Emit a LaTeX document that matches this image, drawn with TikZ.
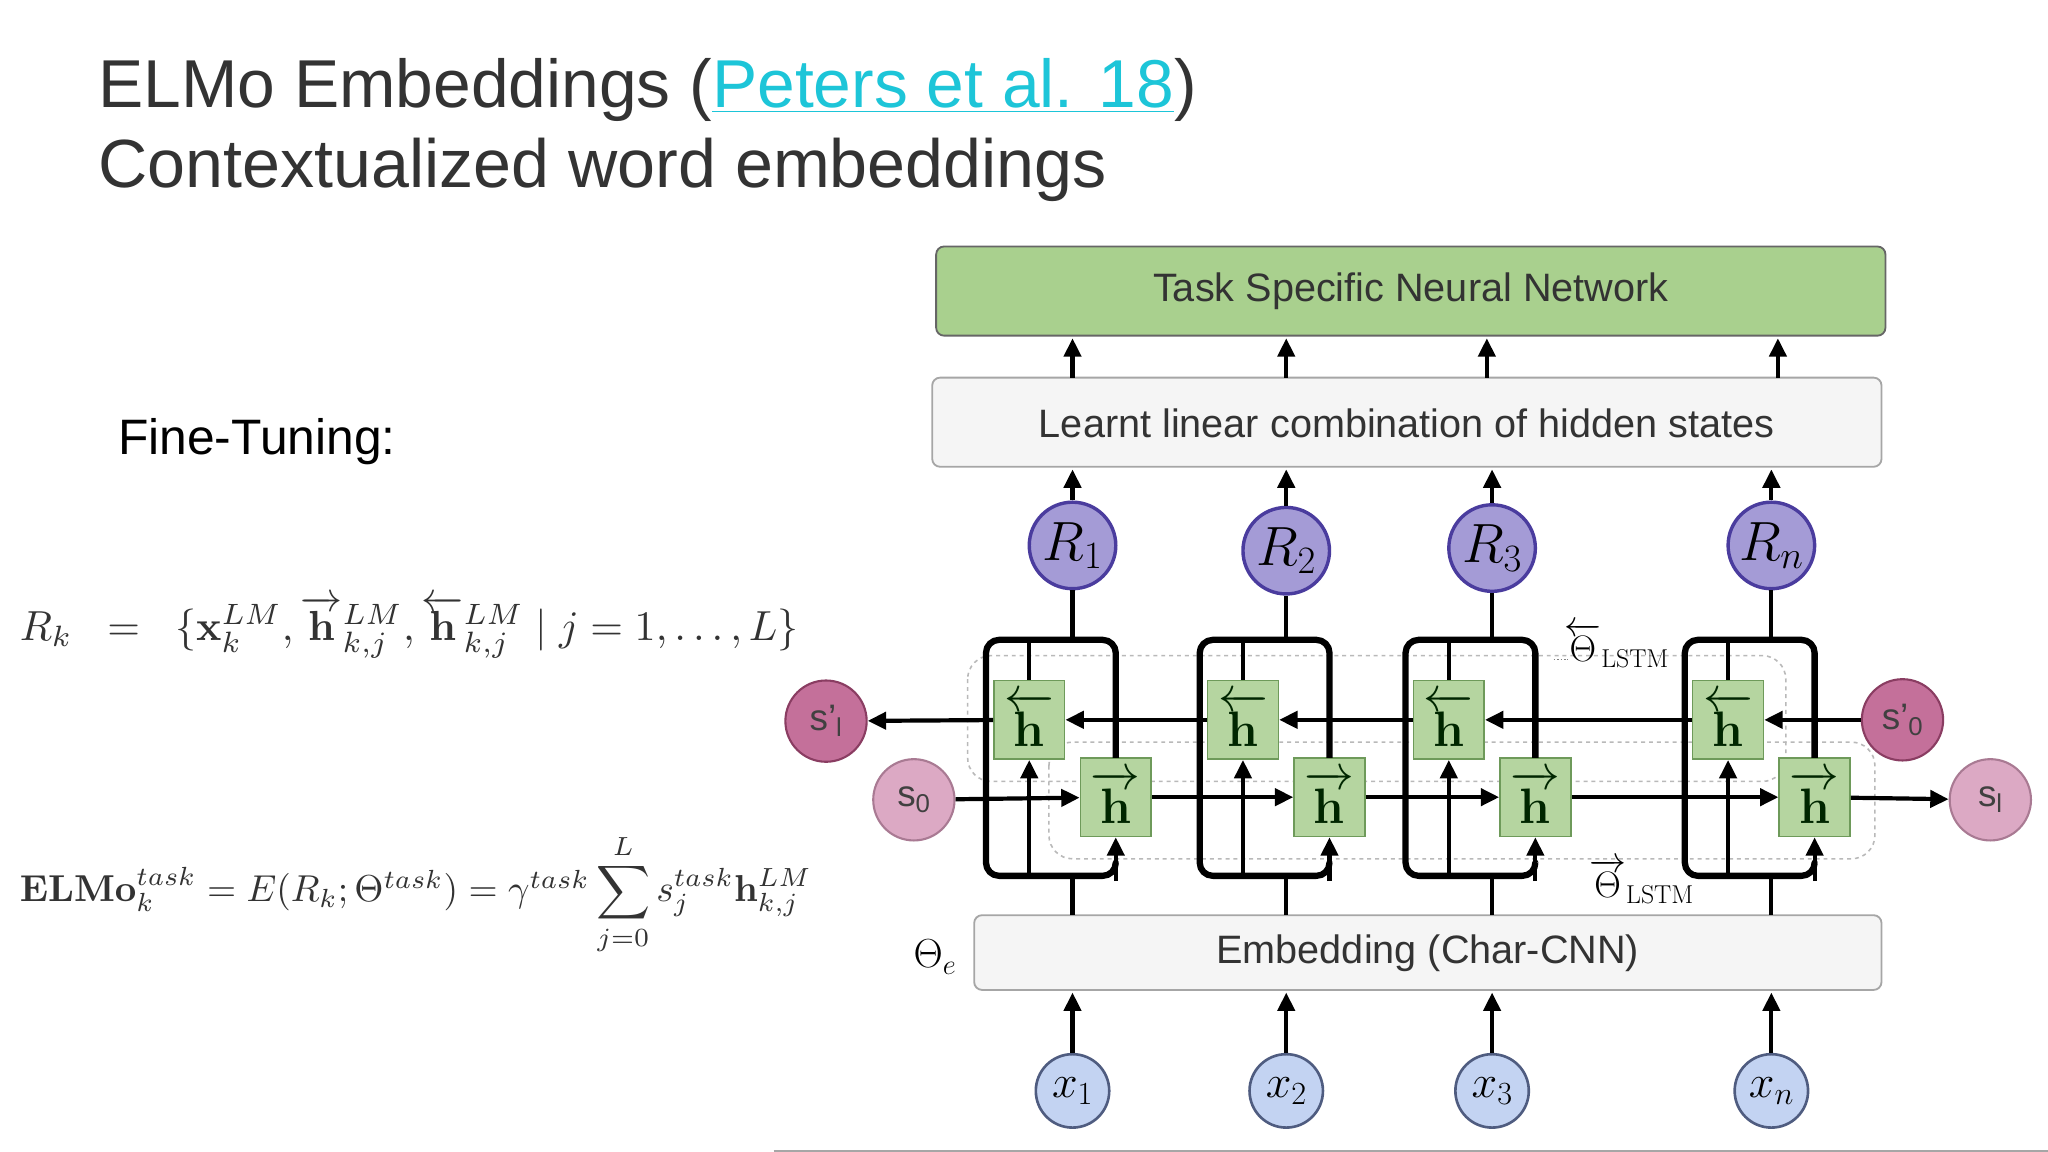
\documentclass[tikz,border=0pt]{standalone}
\usepackage{fix-cm}
\usepackage{amsmath}
\usepackage[no-math]{fontspec}
\setmainfont{Liberation Sans}
\setsansfont{Liberation Sans}
\usetikzlibrary{arrows.meta}
\definecolor{tgreen}{HTML}{A9D08E}
\definecolor{hgreen}{HTML}{B5D5A0}
\definecolor{hborder}{HTML}{6E9A5A}
\definecolor{rpurple}{HTML}{A49BD6}
\definecolor{rborder}{HTML}{4A3C9E}
\definecolor{xblue}{HTML}{C3D3F2}
\definecolor{xborder}{HTML}{4F5C80}
\definecolor{sdark}{HTML}{C4709A}
\definecolor{sdarkb}{HTML}{8A3D62}
\definecolor{slight}{HTML}{DCA9C4}
\definecolor{slightb}{HTML}{A97A93}
\definecolor{txt}{HTML}{333333}
\definecolor{linkc}{HTML}{1DC5D8}
\newcommand{\fs}[1]{\fontsize{#1}{#1}\selectfont}
\tikzset{
  box/.style={draw=gray!70, rounded corners=3mm, line width=0.7mm},
  hbox/.style={draw=hborder, fill=hgreen, minimum width=27mm, minimum height=30mm, inner sep=0, line width=0.6mm, text=green!15!black},
  rcirc/.style={circle, draw=rborder, fill=rpurple, minimum size=33mm, inner sep=0, line width=1.3mm},
  xcirc/.style={circle, draw=xborder, fill=xblue, minimum size=28mm, inner sep=0, line width=1mm},
  sd/.style={circle, draw=sdarkb, fill=sdark, minimum size=31mm, inner sep=0, line width=0.8mm, text=black!75},
  sl/.style={circle, draw=slightb, fill=slight, minimum size=31mm, inner sep=0, line width=0.8mm, text=black!75},
  thk/.style={line width=2.4mm, line join=round},
  arr/.style={line width=1.6mm, -{Triangle[length=7mm, width=6.5mm]}},
  dbox/.style={draw=gray!55, dash pattern=on 1.5mm off 1.5mm, line width=0.6mm, rounded corners=9mm},
}
\begin{document}
\begin{tikzpicture}[x=0.5mm, y=-0.5mm]
\useasboundingbox (0,0) rectangle (1562,878.6);
\fill[white] (0,0) rectangle (1562,878.6);
% title
\node[anchor=base west, inner sep=0, text=txt] (t1) at (75,82) {\fs{73.5}ELMo Embeddings (\textcolor{linkc}{\underline{Peters et al. 18}})};
\node[anchor=base west, inner sep=0, text=txt] (t2) at (75,143) {\fs{74}Contextualized word embeddings};
\node[anchor=base west, inner sep=0, text=black] (ft) at (90,347) {\fs{54}Fine-Tuning:};
% equations
\node[anchor=west, inner sep=0, text=black!80] (e1) at (15,478) {\resizebox{297mm}{!}{$R_k \;\;=\;\; \{\mathbf{x}^{LM}_k,\overrightarrow{\mathbf{h}}^{LM}_{k,j},\overleftarrow{\mathbf{h}}^{LM}_{k,j}\mid j=1,\ldots,L\}$}};
\node[anchor=west, inner sep=0, text=black!80] (e2) at (15,682) {\resizebox{302mm}{!}{$\mathbf{ELMo}^{task}_k=E(R_k;\Theta^{task})=\gamma^{task}\displaystyle\sum_{j=0}^{L}s^{task}_j\mathbf{h}^{LM}_{k,j}$}};
% top boxes
\draw[box, draw=gray!80!black, fill=tgreen] (714,188) rectangle (1438,256);
\node[text=txt] (tsn) at (1076,222) {\fs{43}Task Specific Neural Network};
\draw[box, fill=gray!8] (711,288) rectangle (1435,356);
\node[text=txt] (llc) at (1073,323) {\fs{43}Learnt linear combination of hidden states};
\draw[box, fill=gray!8] (743,698) rectangle (1435,755);
\node[text=txt] (emb) at (1089,727) {\fs{43}Embedding (Char-CNN)};
\node (the) at (713,730) {\fs{44}$\Theta_e$};
% dashed groups
\draw[dbox] (738,500) rectangle (1362,596);
\draw[dbox] (800,566) rectangle (1430,655);
\node[anchor=west, inner sep=0] (tl) at (1193,492) {\fs{40}$\overleftarrow{\Theta}_{\mathrm{LSTM}}$};
\draw[gray, dotted, line width=0.6mm] (1185,503) -- (1196,503);
\node[anchor=west, inner sep=0] (tr) at (1212,672) {\fs{40}$\overrightarrow{\Theta}_{\mathrm{LSTM}}$};
% s circles
\node[sd] (spl) at (630,550) {\fs{40}s'\textsubscript{l}};
\node[sd] (sp0) at (1451,549) {\fs{40}s'\textsubscript{0}};
\node[sl] (s0) at (697,610) {\fs{40}s\textsubscript{0}};
\node[sl] (sL) at (1518,610) {\fs{40}s\textsubscript{l}};
% cells
\foreach \i/\c/\rr/\xl in {1/818/416/1, 2/981/420/2, 3/1138/418/3, 4/1351/416/n}{
  \node[rcirc] (R\i) at (\c,\rr) {\fs{60}$R_{\xl}$};
  \node[xcirc] (x\i) at (\c,832) {\fs{50}$x_{\xl}$};
  \node[hbox] (hb\i) at (\c-33,549) {\fs{54}$\overleftarrow{\mathbf{h}}$};
  \node[hbox] (hf\i) at (\c+33,608) {\fs{54}$\overrightarrow{\mathbf{h}}$};
  \coordinate (bot\i) at (\c,698);
  \draw[arr] (x\i) -- (\c,757);
  \draw[arr] (R\i) -- (\c,358);
}
\draw[arr] (818,288) -- (818,258);
\draw[arr] (981,288) -- (981,258);
\draw[arr] (1134,288) -- (1134,258);
\draw[arr] (1356,288) -- (1356,258);
% circuits
\foreach \i/\c in {1/818, 2/981, 3/1138, 4/1351}{
  \draw[thk, rounded corners=5mm] (\c+33,578) -- (\c+33,488) -- (\c-66,488) -- (\c-66,668) -- (\c+33,668) -- ++(0,-10);
  \draw[arr] (\c+33,672) -- (hf\i.south);
  \draw[line width=1.6mm] (hb\i.north) -- (\c-33,488);
  \draw[arr] (\c-33,668) -- (hb\i.south);
  \draw[line width=1.6mm] (bot\i) -- (\c,668);
  \draw[line width=1.6mm] (\c,488) -- (R\i.south);
}
% horizontal chains
\draw[arr] (sp0) -- (hb4);
\draw[arr] (hb4) -- (hb3);
\draw[arr] (hb3) -- (hb2);
\draw[arr] (hb2) -- (hb1);
\draw[arr] (hb1) -- (spl);
\draw[arr] (s0) -- (hf1);
\draw[arr] (hf1) -- (hf2);
\draw[arr] (hf2) -- (hf3);
\draw[arr] (hf3) -- (hf4);
\draw[arr] (hf4) -- (sL);
% bottom line
\draw[gray!70, line width=0.8mm] (590,878) -- (1562,878);
\end{tikzpicture}
\end{document}
